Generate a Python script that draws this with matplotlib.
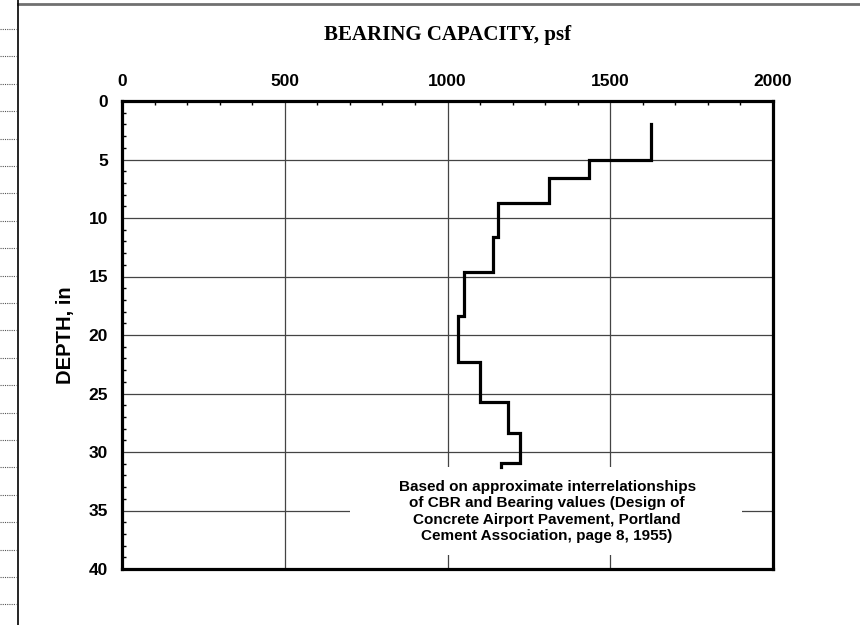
import matplotlib
matplotlib.use("Agg")
import matplotlib.pyplot as plt
from matplotlib.lines import Line2D
from matplotlib.patches import Rectangle
from matplotlib.ticker import MultipleLocator

# layer boundaries (in) and bearing capacity (psf)
depth_top = [2.0, 5.0, 6.6, 8.75, 11.6, 14.6, 18.35, 22.3, 25.7, 28.35, 30.9]
depth_bot = [5.0, 6.6, 8.75, 11.6, 14.6, 18.35, 22.3, 25.7, 28.35, 30.9, 31.25]
bearing = [1625, 1434, 1312, 1154, 1139, 1051, 1032, 1099, 1186, 1223, 1163]

x_ticks = [0, 500, 1000, 1500, 2000]
y_ticks = [0, 5, 10, 15, 20, 25, 30, 35, 40]
note = ("Based on approximate interrelationships\n"
        "of CBR and Bearing values (Design of\n"
        "Concrete Airport Pavement, Portland\n"
        "Cement Association, page 8, 1955)")

xs, ys = [], []
for top, bot, v in zip(depth_top, depth_bot, bearing):
    xs += [v, v]
    ys += [top, bot]

plt.rcParams['font.family'] = ['Liberation Sans', 'DejaVu Sans']

fig = plt.figure(figsize=(8.6, 6.25), dpi=100)
ax = fig.add_axes([0.1419, 0.0896, 0.7569, 0.7488])

ax.plot(xs, ys, color='black', lw=2.3, solid_joinstyle='miter', zorder=4)

ax.set_xlim(0, 2000)
ax.set_ylim(40, 0)
ax.set_xticks(x_ticks)
ax.set_yticks(y_ticks)
ax.xaxis.set_minor_locator(MultipleLocator(100))
ax.yaxis.set_minor_locator(MultipleLocator(1))
ax.xaxis.tick_top()
ax.tick_params(which='both', direction='in', colors='black')
ax.tick_params(which='major', length=0, labelsize=12.5, pad=9)
ax.tick_params(axis='y', which='major', pad=10)
ax.tick_params(which='minor', length=3, width=1)
ax.tick_params(axis='x', which='both', top=True, bottom=False)
for lab in ax.get_xticklabels() + ax.get_yticklabels():
    lab.set_fontweight('bold')

ax.grid(True, which='major', color='#444444', lw=0.9)
ax.set_axisbelow(True)
for s in ax.spines.values():
    s.set_linewidth(2.3)

ax.set_ylabel('DEPTH, in', fontsize=14.5, fontweight='bold', labelpad=10)
ax.set_title('BEARING CAPACITY, psf', fontsize=15, fontweight='bold',
             family='Liberation Serif', pad=44)

# white panel behind the note
ax.add_patch(Rectangle((700, 31.3), 1205, 7.5, facecolor='white',
                       edgecolor='none', zorder=2))
ax.text(1306, 35.1, note, ha='center', va='center', fontsize=11,
        fontweight='bold', linespacing=1.22, zorder=3)

# page decoration: grey top rule and left margin rule with dotted marks
fig.add_artist(Line2D([0.021, 1.0], [0.994, 0.994], color='#707070', lw=2))
fig.add_artist(Line2D([0.021, 0.021], [0.0, 1.0], color='black', lw=1.2))
y = 1 - 29 / 625
while y > 0:
    fig.add_artist(Line2D([0.0, 0.019], [y, y], color='#555555', lw=0.8,
                          linestyle=(0, (1, 1))))
    y -= 27.4 / 625

fig.savefig('out.png', dpi=100)
